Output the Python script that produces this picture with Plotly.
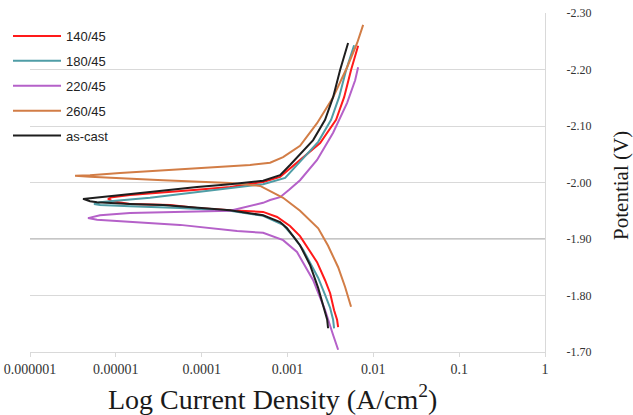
import plotly.graph_objects as go

# Current density (A/cm^2) and potential (V) for each sample
red_i = [6.65e-3, 5.50e-3, 4.57e-3, 3.68e-3, 2.40e-3, 1.40e-3, 8.2e-4, 5.2e-4, 2.14e-4, 8.83e-5,
         3.55e-5, 1.46e-5, 9.04e-6, 8.11e-6, 9.04e-6, 1.46e-5, 4.29e-5, 8.83e-5, 2.14e-4, 5.2e-4,
         7.57e-4, 1.07e-3, 1.40e-3, 1.83e-3, 2.21e-3, 2.74e-3, 3.14e-3, 3.49e-3, 3.78e-3, 3.89e-3]
red_e = [-2.242, -2.199, -2.151, -2.111, -2.070, -2.040, -2.010, -2.001, -1.992, -1.987,
         -1.983, -1.978, -1.974, -1.971, -1.967, -1.962, -1.960, -1.955, -1.951, -1.948,
         -1.939, -1.923, -1.905, -1.877, -1.859, -1.827, -1.804, -1.774, -1.757, -1.744]

cyan_i = [5.97e-3, 4.82e-3, 3.99e-3, 3.22e-3, 2.28e-3, 1.52e-3, 9.38e-4, 5.2e-4, 2.14e-4, 8.83e-5,
          2.5e-5, 8.55e-6, 6.55e-6, 5.57e-6, 6.55e-6, 1.46e-5, 5.6e-5, 2.14e-4, 5.2e-4, 8.89e-4,
          1.16e-3, 1.52e-3, 1.83e-3, 2.28e-3, 2.74e-3, 3.14e-3, 3.40e-3, 3.49e-3]
cyan_e = [-2.243, -2.199, -2.151, -2.111, -2.072, -2.043, -2.008, -1.997, -1.990, -1.983,
          -1.973, -1.967, -1.965, -1.962, -1.960, -1.958, -1.955, -1.950, -1.941, -1.925,
          -1.905, -1.881, -1.859, -1.831, -1.801, -1.778, -1.757, -1.742]

purple_i = [6.65e-3, 6.14e-3, 4.95e-3, 3.40e-3, 2.21e-3, 1.40e-3, 1.045e-3, 8.2e-4, 6.27e-4, 5.2e-4,
            2.14e-4, 5.6e-5, 1.46e-5, 6.55e-6, 4.74e-6, 6.04e-6, 1.46e-5, 5.6e-5, 2.59e-4, 5.2e-4,
            8.89e-4, 1.29e-3, 1.99e-3, 2.74e-3, 3.40e-3, 3.89e-3]
purple_e = [-2.204, -2.181, -2.141, -2.088, -2.040, -2.004, -1.987, -1.974, -1.969, -1.964,
            -1.950, -1.948, -1.946, -1.942, -1.937, -1.934, -1.930, -1.925, -1.914, -1.911,
            -1.898, -1.877, -1.827, -1.774, -1.730, -1.704]

orange_i = [7.61e-3, 6.48e-3, 4.95e-3, 3.40e-3, 2.21e-3, 1.40e-3, 8.89e-4, 6.27e-4, 3.66e-4, 3.55e-5,
            1.12e-5, 5.0e-6, 3.35e-6, 5.0e-6, 1.12e-5, 3.55e-5, 2.14e-4, 4.8e-4, 8.89e-4, 1.40e-3,
            2.28e-3, 2.97e-3, 3.89e-3, 4.69e-3, 5.50e-3]
orange_e = [-2.279, -2.247, -2.204, -2.151, -2.105, -2.065, -2.045, -2.035, -2.031, -2.022,
            -2.017, -2.013, -2.012, -2.010, -2.008, -2.004, -1.999, -1.994, -1.973, -1.950,
            -1.919, -1.888, -1.850, -1.815, -1.780]

black_i = [5.08e-3, 4.10e-3, 3.40e-3, 2.74e-3, 1.99e-3, 1.40e-3, 1.07e-3, 8.2e-4, 5.2e-4, 2.14e-4,
           8.83e-5, 2.5e-5, 7.88e-6, 5.0e-6, 4.15e-6, 5.0e-6, 6.04e-6, 1.46e-5, 3.55e-5, 2.14e-4,
           5.2e-4, 8.2e-4, 9.89e-4, 1.40e-3, 1.83e-3, 2.28e-3, 2.60e-3, 2.90e-3, 2.97e-3]
black_e = [-2.247, -2.199, -2.151, -2.111, -2.075, -2.049, -2.031, -2.013, -2.003, -1.997,
           -1.992, -1.983, -1.976, -1.973, -1.971, -1.967, -1.965, -1.962, -1.960, -1.951,
           -1.942, -1.930, -1.919, -1.889, -1.854, -1.813, -1.783, -1.757, -1.742]

series_names = ["140/45", "180/45", "220/45", "260/45", "as-cast"]
series_colors = ["#FF1A1A", "#4F9DA6", "#B561C9", "#D27D46", "#1E1E1E"]
series_data = [(red_i, red_e), (cyan_i, cyan_e), (purple_i, purple_e),
               (orange_i, orange_e), (black_i, black_e)]

x_tickvals = [1e-6, 1e-5, 1e-4, 1e-3, 1e-2, 1e-1, 1]
x_ticktext = ["0.000001", "0.00001", "0.0001", "0.001", "0.01", "0.1", "1"]
y_tickvals = [-2.30, -2.20, -2.10, -2.00, -1.90, -1.80, -1.70]
y_ticktext = ["-2.30", "-2.20", "-2.10", "-2.00", "-1.90", "-1.80", "-1.70"]

fig = go.Figure()
for name, color, (xi, ye) in zip(series_names, series_colors, series_data):
    fig.add_trace(go.Scatter(
        x=xi, y=ye, mode="lines", name=name, legendgroup=name,
        line=dict(color=color, width=2, shape="linear"),
    ))

serif = "Liberation Serif, Times New Roman, serif"

fig.update_layout(
    width=633, height=415,
    margin=dict(l=30, r=88, t=13, b=63, autoexpand=False),
    paper_bgcolor="white", plot_bgcolor="white",
    showlegend=True,
    legend=dict(
        xref="container", yref="container",
        x=8 / 633, y=1 - 21 / 415, xanchor="left", yanchor="top",
        bgcolor="rgba(0,0,0,0)", borderwidth=0,
        font=dict(family="Liberation Sans, Arial, sans-serif", size=13, color="#222222"),
        traceorder="grouped", tracegroupgap=5, itemwidth=48,
    ),
    xaxis=dict(
        type="log", range=[-6, 0], automargin=False,
        tickvals=x_tickvals, ticktext=x_ticktext,
        showgrid=False, zeroline=False,
        showline=True, linecolor="#D9D9D9", linewidth=1,
        ticks="outside", ticklen=4, tickcolor="#D9D9D9",
        tickfont=dict(family=serif, size=14, color="#333333"),
    ),
    yaxis=dict(
        range=[-1.70, -2.30], side="right", automargin=False,
        tickvals=y_tickvals, ticktext=y_ticktext,
        showgrid=True, gridcolor="#D9D9D9", gridwidth=1,
        zeroline=False,
        showline=True, linecolor="#D9D9D9", linewidth=1,
        ticks="", ticklabelstandoff=18,
        tickfont=dict(family=serif, size=12, color="#333333"),
    ),
    shapes=[dict(type="line", xref="paper", yref="y", x0=0, x1=1, y0=-1.90, y1=-1.90,
                 line=dict(color="#B3B3B3", width=1.5), layer="below")],
    annotations=[
        dict(text="Log Current Density (A/cm<sup>2</sup>)", xref="paper", yref="paper",
             x=0.47, y=-0.133, xanchor="center", yanchor="middle", showarrow=False,
             font=dict(family=serif, size=28, color="#1A1A1A")),
        dict(text="Potential (V)", xref="paper", yref="paper", textangle=-90,
             x=1.1476, y=0.49, xanchor="center", yanchor="middle", showarrow=False,
             font=dict(family=serif, size=21, color="#1A1A1A")),
    ],
)

fig.write_html("out.html")
